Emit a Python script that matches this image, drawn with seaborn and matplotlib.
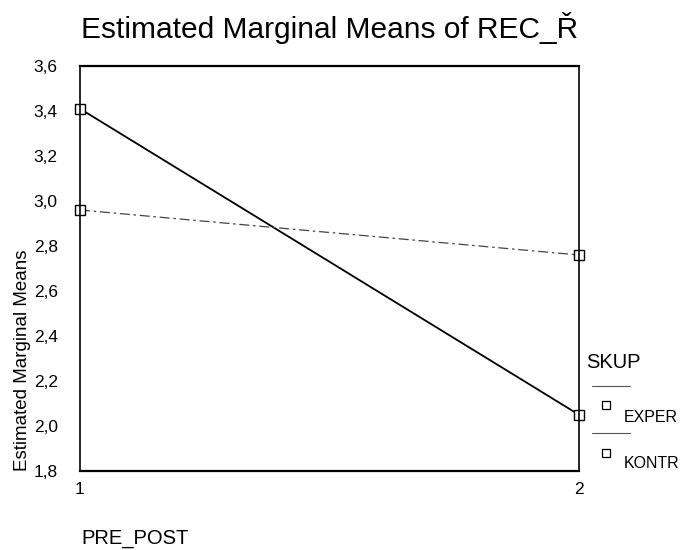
import pandas as pd
import matplotlib
matplotlib.use("Agg")
import matplotlib.pyplot as plt
import seaborn as sns
from matplotlib.ticker import FuncFormatter
from matplotlib.lines import Line2D

# data
pre_post = [1, 2]
exper = [3.41, 2.05]
kontr = [2.96, 2.76]
groups = ["EXPER", "KONTR"]
y_ticks = [1.8, 2.0, 2.2, 2.4, 2.6, 2.8, 3.0, 3.2, 3.4, 3.6]

data = pd.DataFrame({
    "PRE_POST": pre_post * 2,
    "mean": exper + kontr,
    "SKUP": [groups[0]] * 2 + [groups[1]] * 2,
})

sns.set_style("white")
plt.rcParams["font.family"] = ["Liberation Sans", "DejaVu Sans"]
plt.rcParams["text.color"] = "black"

fig = plt.figure(figsize=(6.82, 5.5), dpi=100)
ax = fig.add_axes([80 / 682, 1 - 471 / 550, 499 / 682, 405 / 550])

sns.lineplot(data=data, x="PRE_POST", y="mean", hue="SKUP", style="SKUP",
             palette=["black", "#444444"], markers=["s", "s"],
             dashes=[(1, 0), (8, 3, 2, 3)], legend=False, ax=ax,
             markersize=7, markerfacecolor="white", markeredgecolor="black",
             markeredgewidth=1.0, clip_on=False)
lines = ax.get_lines()
lines[0].set_linewidth(1.3)
lines[1].set_linewidth(0.9)

ax.set_xlim(1, 2)
ax.set_ylim(1.8, 3.6)
ax.set_xticks(pre_post)
ax.set_yticks(y_ticks)
ax.yaxis.set_major_formatter(FuncFormatter(lambda v, p: f"{v:.1f}".replace(".", ",")))
ax.tick_params(axis="y", direction="out", length=4, width=1, pad=12, labelsize=12.5, colors="black")
ax.tick_params(axis="x", direction="out", length=5, width=1, pad=3, labelsize=12.5, colors="black")
for side, s in ax.spines.items():
    s.set_visible(True)
    s.set_color("black")
    s.set_linewidth(1.6 if side in ("top", "bottom") else 1.2)

ax.set_xlabel("")
ax.set_ylabel("")

fig.text(23 / 682, 1 - 360 / 550, "Estimated Marginal Means", fontsize=13.5,
         rotation=90, va="center", ha="center")
fig.text(81 / 682, 1 - 538 / 550, "PRE_POST", fontsize=14.5, va="center", ha="left")
fig.text(81 / 682, 1 - 38 / 550, "Estimated Marginal Means of REC_Ř", fontsize=21.5,
         va="baseline", ha="left")

# legend drawn by hand, in the SPSS layout
fig.text(586 / 682, 1 - 363 / 550, "SKUP", fontsize=14.5, va="center", ha="left")
for yy in (386, 433):
    fig.add_artist(Line2D([592 / 682, 630 / 682], [1 - yy / 550, 1 - yy / 550],
                          color="#555555", lw=0.8))
for (my, ty), name in zip([(405, 417), (453, 463)], groups):
    fig.add_artist(Line2D([606 / 682], [1 - my / 550], marker="s", markersize=6,
                          markerfacecolor="white", markeredgecolor="black",
                          markeredgewidth=0.9, linestyle="none"))
    fig.text(624 / 682, 1 - ty / 550, name, fontsize=11.5, va="center", ha="left")

fig.savefig("out.png", dpi=100)
